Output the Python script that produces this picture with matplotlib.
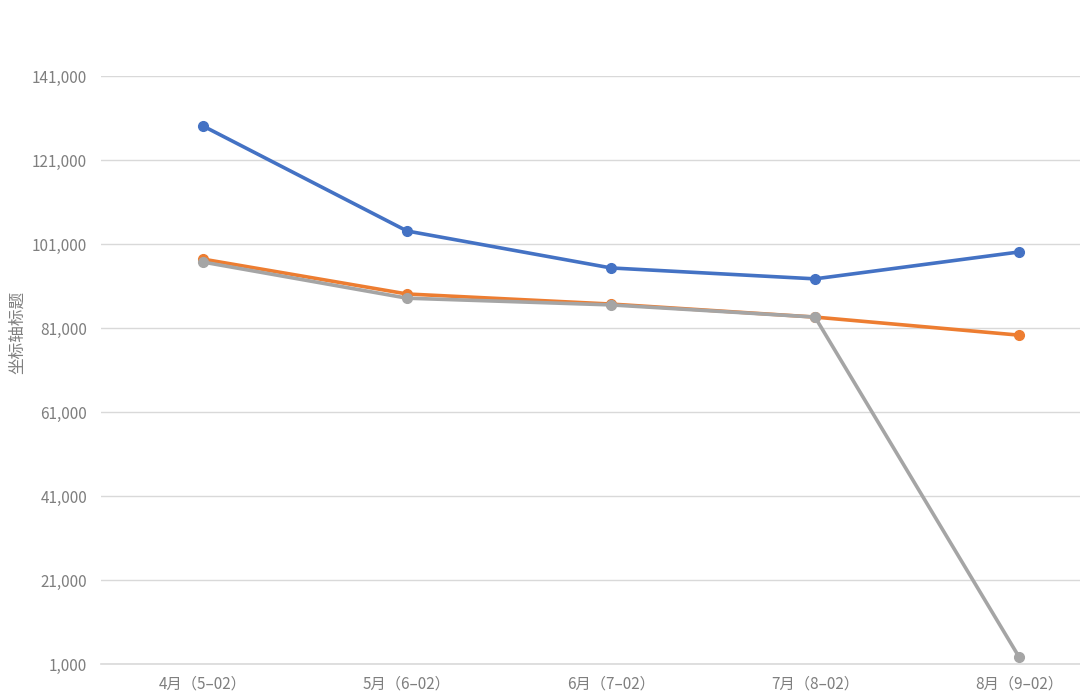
import matplotlib.pyplot as plt
import numpy as np

plt.rcParams['font.family'] = ['Noto Sans CJK SC', 'DejaVu Sans']

categories = ['4月（5–02）', '5月（6–02）', '6月（7–02）', '7月（8–02）', '8月（9–02）']
series_blue = [129100, 104100, 95300, 92700, 99100]
series_orange = [97400, 89100, 86700, 83600, 79300]
series_gray = [96700, 88100, 86500, 83600, 2700]
y_ticks = [1000, 21000, 41000, 61000, 81000, 101000, 121000, 141000]

fig = plt.figure(figsize=(10.8, 6.99), dpi=100)
ax = fig.add_axes([101 / 1080, 35 / 699, 1 - 101 / 1080, 588 / 699])

x = np.arange(len(categories))
ax.plot(x, series_blue, color='#4472C4', lw=2.6, marker='o', ms=7, zorder=3)
ax.plot(x, series_orange, color='#ED7D31', lw=2.6, marker='o', ms=7, zorder=3)
ax.plot(x, series_gray, color='#A5A5A5', lw=2.6, marker='o', ms=7, zorder=3)

ax.set_xlim(-0.5, -0.5 + (1080 - 101) / 204)
ax.set_ylim(1000, 141000)
ax.set_yticks(y_ticks)
ax.set_yticklabels([f'{v:,}' for v in y_ticks])
ax.set_xticks(x)
ax.set_xticklabels(categories)

ax.grid(axis='y', color='#D9D9D9', lw=1)
ax.axhline(y_ticks[0], color='#D9D9D9', lw=1.2, clip_on=False, zorder=1)
ax.set_axisbelow(True)
for s in ax.spines.values():
    s.set_visible(False)
ax.tick_params(axis='both', length=0, labelsize=11, colors='#7F7F7F')
ax.tick_params(axis='y', pad=10)
ax.tick_params(axis='x', pad=8)

fig.text(18 / 1080, 1 - 332 / 699, '坐标轴标题', rotation=90, ha='center', va='center',
         fontsize=12, color='#7F7F7F')

fig.savefig('out.png', dpi=100)
